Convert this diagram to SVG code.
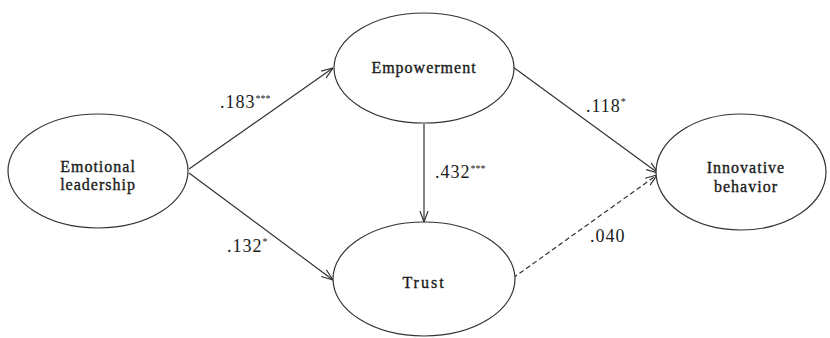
<svg xmlns="http://www.w3.org/2000/svg" width="830" height="338" viewBox="0 0 830 338">
<style>
.node{fill:#fff;stroke:#333;stroke-width:1.2}
.lbl{font-family:"Liberation Serif","Times New Roman",serif;font-size:16px;fill:#1a1a1a;stroke:#1a1a1a;stroke-width:0.35;letter-spacing:1px;text-anchor:middle}
.num{font-family:"Liberation Serif","Times New Roman",serif;font-size:18px;fill:#1a1a1a;letter-spacing:1px}
.sup{font-size:10px;letter-spacing:0}
.edge{stroke:#333;stroke-width:1.2;fill:none}
.dash{stroke-dasharray:5 3}
</style>
<defs>
<marker id="arr" viewBox="0 0 12 10" refX="11.5" refY="5" markerWidth="12" markerHeight="10" markerUnits="userSpaceOnUse" orient="auto">
<path d="M0,0.8 L11.5,5 L0,9.2" fill="none" stroke="#333" stroke-width="1.2"/>
</marker>
</defs>
<g id="connectors">
<line class="edge" x1="189" y1="169" x2="333" y2="68" marker-end="url(#arr)"/>
<line class="edge" x1="189" y1="173" x2="333" y2="280" marker-end="url(#arr)"/>
<line class="edge" x1="424" y1="124" x2="424" y2="222" marker-end="url(#arr)"/>
<line class="edge" x1="513" y1="67" x2="658" y2="173" marker-end="url(#arr)"/>
<line class="edge dash" x1="513" y1="278" x2="657" y2="175" marker-end="url(#arr)"/>
<text class="num" x="220" y="108">.183<tspan class="sup" dy="-6">***</tspan></text>
<text class="num" x="227" y="252">.132<tspan class="sup" dy="-7">*</tspan></text>
<text class="num" x="435" y="178">.432<tspan class="sup" dy="-6">***</tspan></text>
<text class="num" x="586" y="112">.118<tspan class="sup" dy="-7">*</tspan></text>
<text class="num" x="590" y="242">.040</text>
</g>
<g id="emotional-leadership">
<ellipse class="node" cx="98" cy="171" rx="90" ry="57"/>
<text class="lbl" x="98" y="172">Emotional</text>
<text class="lbl" x="98" y="190">leadership</text>
</g>
<g id="empowerment">
<ellipse class="node" cx="424" cy="68" rx="90" ry="55"/>
<text class="lbl" x="424" y="73">Empowerment</text>
</g>
<g id="trust">
<ellipse class="node" cx="424" cy="279" rx="91" ry="57"/>
<text class="lbl" x="424" y="288" style="letter-spacing:2px">Trust</text>
</g>
<g id="innovative-behavior">
<ellipse class="node" cx="741" cy="172" rx="85" ry="58"/>
<text class="lbl" x="746" y="173">Innovative</text>
<text class="lbl" x="746" y="192">behavior</text>
</g>
</svg>
